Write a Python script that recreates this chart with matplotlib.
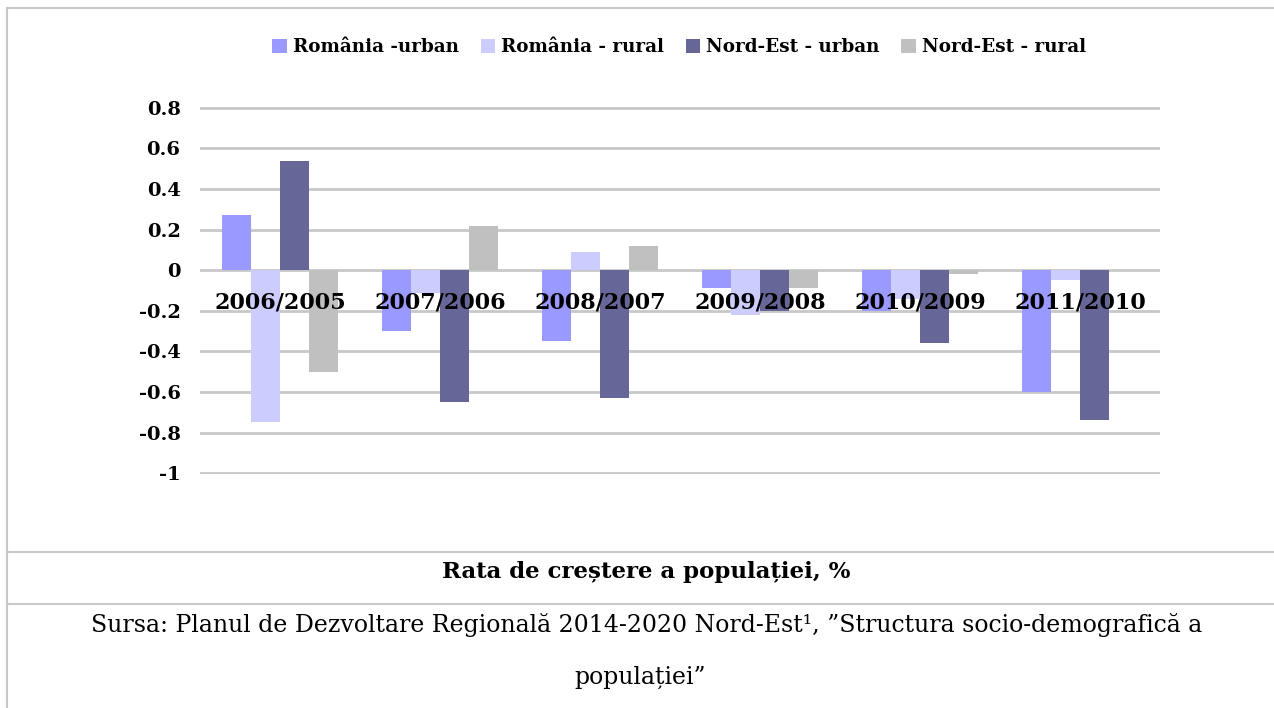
import matplotlib.pyplot as plt
import numpy as np
from matplotlib.lines import Line2D

# ---- date ----
perioade = ["2006/2005", "2007/2006", "2008/2007", "2009/2008", "2010/2009", "2011/2010"]
serii = ["România -urban", "România - rural", "Nord-Est - urban", "Nord-Est - rural"]
ro_urban = [0.27, -0.30, -0.35, -0.09, -0.20, -0.60]
ro_rural = [-0.75, -0.11, 0.09, -0.22, -0.14, -0.05]
ne_urban = [0.54, -0.65, -0.63, -0.20, -0.36, -0.74]
ne_rural = [-0.50, 0.22, 0.12, -0.09, -0.02, 0.0]
culori = ["#9999FF", "#CCCCFF", "#666699", "#C0C0C0"]
y_ticks = [0.8, 0.6, 0.4, 0.2, 0, -0.2, -0.4, -0.6, -0.8, -1]

plt.rcParams["font.family"] = ["DejaVu Serif"]

W, H = 1274, 708
fig = plt.figure(figsize=(W / 100, H / 100), dpi=100)

# zona graficului (pixeli -> fractiuni)
x0, x1, ytop, ybot = 200, 1160, 107, 474
ax = fig.add_axes([x0 / W, 1 - ybot / H, (x1 - x0) / W, (ybot - ytop) / H])

x = np.arange(len(perioade))
w = 0.18
for i, (vals, c, lab) in enumerate(zip([ro_urban, ro_rural, ne_urban, ne_rural], culori, serii)):
    ax.bar(x + (i - 1.5) * w, vals, w, color=c, label=lab, zorder=2)

ax.set_xlim(-0.5, len(perioade) - 0.5)
ax.set_ylim(-1.004, 0.804)
ax.set_yticks(y_ticks)
ax.set_yticklabels([f"{v:g}" for v in y_ticks], fontsize=14, fontweight="bold")
ax.yaxis.grid(True, color="#C8C8C8", lw=2, zorder=1)
ax.tick_params(axis="y", length=0, pad=14)
ax.set_xticks([])
for s in ax.spines.values():
    s.set_visible(False)

# etichete categorii peste bare, sub axa zero
for xi, lab in zip(x, perioade):
    ax.text(xi, -0.16, lab, ha="center", va="center", fontsize=16, fontweight="bold",
            zorder=3)

# legenda
fig.legend(loc="center", bbox_to_anchor=(679 / W, 1 - 47 / H), ncol=4, frameon=False,
           prop={"size": 13.2, "weight": "bold"}, handlelength=0.8, handleheight=0.8,
           handletextpad=0.3, columnspacing=1.2)

# chenar si linii de separare
lc = "#C8C8C8"
fig.add_artist(Line2D([7 / W, 1], [1 - 8 / H, 1 - 8 / H], color=lc, lw=1.5))
fig.add_artist(Line2D([7 / W, 7 / W], [0, 1 - 8 / H], color=lc, lw=1.5))
fig.add_artist(Line2D([7 / W, 1], [1 - 552 / H, 1 - 552 / H], color=lc, lw=1.5))
fig.add_artist(Line2D([7 / W, 1], [1 - 604 / H, 1 - 604 / H], color=lc, lw=1.5))

fig.text(646 / W, 1 - 572 / H, "Rata de creștere a populației, %", ha="center", va="center",
         fontsize=16.5, fontweight="bold")
fig.text(647 / W, 1 - 625 / H,
         "Sursa: Planul de Dezvoltare Regională 2014-2020 Nord-Est¹, ”Structura socio-demografică a",
         ha="center", va="center", fontsize=17)
fig.text(640 / W, 1 - 677 / H, "populației”", ha="center", va="center", fontsize=17)

fig.savefig("out.png", dpi=100)
